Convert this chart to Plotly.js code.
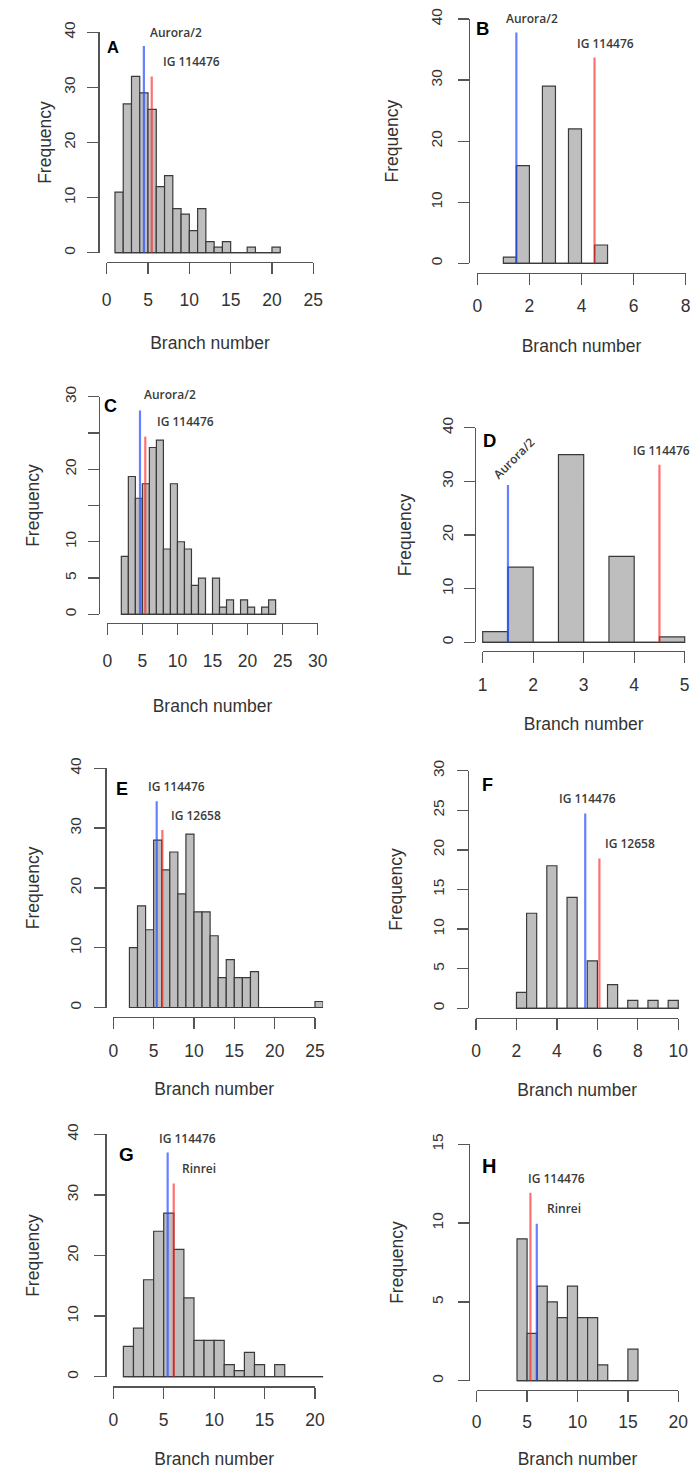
<!DOCTYPE html>
<html><head><meta charset="utf-8">
<script src="https://cdn.plot.ly/plotly-3.0.1.min.js"></script>
<style>html,body{margin:0;padding:0;background:#fff}#chart{width:691px;height:1470px}</style>
</head><body><div id="chart"></div>
<script>
// ===== DATA =====
// Panel A
const aBinLeft = [1,2,3,4,5,6,7,8,9,10,11,12,13,14,15,16,17,18,19,20];
const aBinWidth = 1;
const aCounts = [11,27,32,29,26,12,14,8,7,4,8,2,1,2,0,0,1,0,0,1];
const aRefNames = ['Aurora/2','IG 114476'];
const aRefValues = [4.5, 5.45];
const aRefHeights = [37.5, 32];
const aXTicks = [0,5,10,15,20,25];
const aYTicks = [0,10,20,30,40];
// Panel B
const bBinLeft = [1,1.5,2,2.5,3,3.5,4,4.5];
const bBinWidth = 0.5;
const bCounts = [1,16,0,29,0,22,0,3];
const bRefNames = ['Aurora/2','IG 114476'];
const bRefValues = [1.5, 4.5];
const bRefHeights = [37.8, 33.7];
const bXTicks = [0,2,4,6,8];
const bYTicks = [0,10,20,30,40];
// Panel C
const cBinLeft = [2,3,4,5,6,7,8,9,10,11,12,13,14,15,16,17,18,19,20,21,22,23];
const cBinWidth = 1;
const cCounts = [8,19,16,18,23,24,9,18,10,9,4,5,0,5,1,2,0,2,1,0,1,2];
const cRefNames = ['Aurora/2','IG 114476'];
const cRefValues = [4.66, 5.42];
const cRefHeights = [28.1, 24.5];
const cXTicks = [0,5,10,15,20,25,30];
const cYTicks = [0,5,10,15,20,25,30];
const cYTickText = ['0','5','10','','20','','30'];
// Panel D
const dBinLeft = [1,1.5,2,2.5,3,3.5,4,4.5];
const dBinWidth = 0.5;
const dCounts = [2,14,0,35,0,16,0,1];
const dRefNames = ['Aurora/2','IG 114476'];
const dRefValues = [1.5, 4.5];
const dRefHeights = [29.3, 33.1];
const dXTicks = [1,2,3,4,5];
const dYTicks = [0,10,20,30,40];
// Panel E
const eBinLeft = [2,3,4,5,6,7,8,9,10,11,12,13,14,15,16,17,18,19,20,21,22,23,24,25];
const eBinWidth = 1;
const eCounts = [10,17,13,28,23,26,19,29,16,16,12,5,8,5,5,6,0,0,0,0,0,0,0,1];
const eRefNames = ['IG 114476','IG 12658'];
const eRefValues = [5.38, 6.08];
const eRefHeights = [34.5, 29.7];
const eXTicks = [0,5,10,15,20,25];
const eYTicks = [0,10,20,30,40];
// Panel F
const fBinLeft = [2,2.5,3,3.5,4,4.5,5,5.5,6,6.5,7,7.5,8,8.5,9,9.5];
const fBinWidth = 0.5;
const fCounts = [2,12,0,18,0,14,0,6,0,3,0,1,0,1,0,1];
const fRefNames = ['IG 114476','IG 12658'];
const fRefValues = [5.4, 6.1];
const fRefHeights = [24.6, 18.9];
const fXTicks = [0,2,4,6,8,10];
const fYTicks = [0,5,10,15,20,25,30];
// Panel G
const gBinLeft = [1,2,3,4,5,6,7,8,9,10,11,12,13,14,15,16,17,18,19,20];
const gBinWidth = 1;
const gCounts = [5,8,16,24,27,21,13,6,6,6,2,1,4,2,0,2,0,0,0,0];
const gRefNames = ['IG 114476','Rinrei'];
const gRefValues = [5.39, 5.99];
const gRefHeights = [37, 31.9];
const gXTicks = [0,5,10,15,20];
const gYTicks = [0,10,20,30,40];
// Panel H
const hBinLeft = [4,5,6,7,8,9,10,11,12,13,14,15];
const hBinWidth = 1;
const hCounts = [9,3,6,5,4,6,4,4,1,0,0,2];
const hRefNames = ['IG 114476','Rinrei'];
const hRefValues = [5.33, 5.96];
const hRefHeights = [11.93, 9.96];
const hXTicks = [0,5,10,15,20];
const hYTicks = [0,5,10,15];

const panelLetters = ['A','B','C','D','E','F','G','H'];
const xTitle = 'Branch number';
const yTitle = 'Frequency';

const panels = [
  {binLeft:aBinLeft, binWidth:aBinWidth, counts:aCounts, refNames:aRefNames, refValues:aRefValues, refHeights:aRefHeights, xTicks:aXTicks, yTicks:aYTicks},
  {binLeft:bBinLeft, binWidth:bBinWidth, counts:bCounts, refNames:bRefNames, refValues:bRefValues, refHeights:bRefHeights, xTicks:bXTicks, yTicks:bYTicks},
  {binLeft:cBinLeft, binWidth:cBinWidth, counts:cCounts, refNames:cRefNames, refValues:cRefValues, refHeights:cRefHeights, xTicks:cXTicks, yTicks:cYTicks, yTickText:cYTickText},
  {binLeft:dBinLeft, binWidth:dBinWidth, counts:dCounts, refNames:dRefNames, refValues:dRefValues, refHeights:dRefHeights, xTicks:dXTicks, yTicks:dYTicks},
  {binLeft:eBinLeft, binWidth:eBinWidth, counts:eCounts, refNames:eRefNames, refValues:eRefValues, refHeights:eRefHeights, xTicks:eXTicks, yTicks:eYTicks},
  {binLeft:fBinLeft, binWidth:fBinWidth, counts:fCounts, refNames:fRefNames, refValues:fRefValues, refHeights:fRefHeights, xTicks:fXTicks, yTicks:fYTicks},
  {binLeft:gBinLeft, binWidth:gBinWidth, counts:gCounts, refNames:gRefNames, refValues:gRefValues, refHeights:gRefHeights, xTicks:gXTicks, yTicks:gYTicks},
  {binLeft:hBinLeft, binWidth:hBinWidth, counts:hCounts, refNames:hRefNames, refValues:hRefValues, refHeights:hRefHeights, xTicks:hXTicks, yTicks:hYTicks}
];

// ===== LAYOUT / STYLE =====
const W = 691, H = 1470;
const BLUE = 'rgba(35,75,255,0.7)', RED = 'rgba(255,35,35,0.65)';
// pixel calibration of each panel + wanted text offsets (px from axis line to text centre)
const geom = [
  {xpx:[106.7,313.3], ypx:[252.7,32.3],   xLab:36,   xTit:81,   yLab:29, yTit:54, colors:[BLUE,RED], letter:[0.8,37.4,16.5], labels:[[8.4,40.0,0],[10.3,34.7,0]]},
  {xpx:[477.3,685.7], ypx:[263.3,19.0],   xLab:31,   xTit:72.7, yLab:33, yTit:77, colors:[BLUE,RED], letter:[0.19,38.5,18.5], labels:[[2.11,40.1,0],[4.93,36.0,0]]},
  {xpx:[107.3,317.7], ypx:[614.3,396.7],  xLab:35.7, xTit:82.7, yLab:29, yTit:66, colors:[BLUE,RED], letter:[0.48,28.7,18], labels:[[8.9,30.3,0],[11.15,26.6,0]]},
  {xpx:[482.7,684.7], ypx:[642.3,427.7],  xLab:32,   xTit:73,   yLab:28, yTit:70, colors:[BLUE,RED], letter:[1.13,37.7,18.5], labels:[[1.61,34.3,-45],[4.55,35.7,0]]},
  {xpx:[113.3,315.0], ypx:[1007.5,768.3], xLab:31.7, xTit:72,   yLab:30, yTit:72, colors:[BLUE,RED], letter:[1.12,36.5,18], labels:[[7.79,36.9,0],[10.27,32.1,0]]},
  {xpx:[476.0,678.3], ypx:[1008.3,770.7], xLab:31,   xTit:72,   yLab:30, yTit:72, colors:[BLUE,RED], letter:[0.56,28.2,18], labels:[[5.5,26.5,0],[7.63,20.8,0]]},
  {xpx:[113.3,315.0], ypx:[1376.7,1134.3],xLab:32,   xTit:72,   yLab:33, yTit:73, colors:[BLUE,RED], letter:[1.33,36.7,19], labels:[[7.34,39.3,0],[8.53,34.3,0]]},
  {xpx:[476.7,678.3], ypx:[1380.7,1144.3],xLab:30,   xTit:69,   yLab:32, yTit:72, colors:[RED,BLUE], letter:[1.22,13.6,20], labels:[[7.87,12.84,0],[8.64,10.9,0]]}
];
const X_LAB_SHIFT = 10.5, Y_LAB_SHIFT = 9, X_TIT_SHIFT = 17.5, Y_TIT_SHIFT = 21;

const AXIS_COLOR = '#555';
const TEXT_COLOR = '#333';
const LABEL_FONT = {family:'Open Sans, sans-serif', size:12, color:'#3a3a3a', weight:600};

const traces = [];
const layout = {
  width: W, height: H,
  margin: {l:0, r:0, t:0, b:0},
  paper_bgcolor: '#fff', plot_bgcolor: 'rgba(0,0,0,0)',
  showlegend: false,
  font: {family:'Liberation Sans, Arial, sans-serif', color: TEXT_COLOR},
  annotations: []
};
const fx = px => px / W;
const fy = py => 1 - py / H;

panels.forEach((p, i) => {
  const g = geom[i];
  const n1 = 3*i + 1, n2 = 3*i + 2, n3 = 3*i + 3;
  const x0 = p.xTicks[0], x1 = p.xTicks[p.xTicks.length-1];
  const y0 = p.yTicks[0], y1 = p.yTicks[p.yTicks.length-1];
  const wpx = g.xpx[1]-g.xpx[0], hpx = g.ypx[0]-g.ypx[1];
  const xs = wpx/(x1-x0), ys = hpx/(y1-y0);
  const left = g.xpx[0]-0.04*wpx, right = Math.min(W, g.xpx[1]+0.04*wpx);
  const bottom = g.ypx[0]+0.04*hpx, top = Math.max(0, g.ypx[1]-0.04*hpx);
  const xr = [x0+(left-g.xpx[0])/xs, x0+(right-g.xpx[0])/xs];
  const yr = [y0-(bottom-g.ypx[0])/ys, y0+(g.ypx[0]-top)/ys];

  // data axes (invisible, R "usr" region)
  layout['xaxis'+n1] = {domain:[fx(left), fx(right)], range:xr, anchor:'y'+n1, visible:false, showgrid:false, zeroline:false};
  layout['yaxis'+n1] = {domain:[fy(bottom), fy(top)], range:yr, anchor:'x'+n1, visible:false, showgrid:false, zeroline:false};

  // R-style axis lines + ticks spanning only the tick range
  const lineStyle = {showline:true, linecolor:AXIS_COLOR, linewidth:1.3, showgrid:false, zeroline:false,
    ticks:'outside', ticklen:11, tickwidth:1.3, tickcolor:AXIS_COLOR, showticklabels:false};
  layout['xaxis'+n2] = Object.assign({domain:[fx(g.xpx[0]), fx(g.xpx[1])], range:[x0, x1], anchor:'free', position:fy(bottom),
    tickmode:'array', tickvals:p.xTicks}, lineStyle);
  layout['yaxis'+n2] = Object.assign({domain:[fy(g.ypx[0]), fy(g.ypx[1])], range:[y0, y1], anchor:'free', position:fx(left),
    tickmode:'array', tickvals:p.yTicks}, lineStyle);
  traces.push({type:'scatter', x:[], y:[], xaxis:'x'+n2, yaxis:'y'+n2, hoverinfo:'skip'});

  // tick labels + titles (R puts them well away from the axis line)
  layout['xaxis'+n3] = {
    domain:[fx(g.xpx[0]), fx(g.xpx[1])], range:[x0, x1], anchor:'free', position:fy(bottom + g.xLab - X_LAB_SHIFT),
    showline:false, showgrid:false, zeroline:false, ticks:'',
    tickmode:'array', tickvals:p.xTicks, ticktext:p.xTicks.map(String),
    tickfont:{size:17.5, color:TEXT_COLOR},
    title:{text:xTitle, font:{size:17.5, color:TEXT_COLOR}, standoff:Math.max(0, g.xTit - g.xLab - X_TIT_SHIFT)}
  };
  layout['yaxis'+n3] = {
    domain:[fy(g.ypx[0]), fy(g.ypx[1])], range:[y0, y1], anchor:'free', position:fx(left - (g.yLab - Y_LAB_SHIFT)),
    showline:false, showgrid:false, zeroline:false, ticks:'',
    tickmode:'array', tickvals:p.yTicks, ticktext:(p.yTickText || p.yTicks.map(String)),
    tickangle:-90, tickfont:{size:15.5, color:TEXT_COLOR},
    title:{text:yTitle, font:{size:17.5, color:TEXT_COLOR}, standoff:Math.max(0, g.yTit - g.yLab - Y_TIT_SHIFT)}
  };
  traces.push({type:'scatter', x:[], y:[], xaxis:'x'+n3, yaxis:'y'+n3, hoverinfo:'skip'});

  // histogram bars
  traces.push({
    type:'bar', x:p.binLeft, y:p.counts, width:p.binWidth, offset:0,
    xaxis:'x'+n1, yaxis:'y'+n1,
    marker:{color:'#bebebe', line:{color:'#3a3a3a', width:1.2}},
    hovertemplate:'%{x}: %{y}<extra></extra>'
  });
  // baseline for empty bins (as R draws them)
  const lastEdge = p.binLeft[p.binLeft.length-1] + p.binWidth;
  traces.push({
    type:'scatter', mode:'lines', x:[p.binLeft[0], lastEdge], y:[0, 0],
    xaxis:'x'+n1, yaxis:'y'+n1, line:{color:'#3a3a3a', width:1.2}, hoverinfo:'skip'
  });
  // reference lines
  p.refValues.forEach((v, k) => {
    traces.push({
      type:'scatter', mode:'lines', x:[v, v], y:[0, p.refHeights[k]],
      xaxis:'x'+n1, yaxis:'y'+n1, line:{color:g.colors[k], width:2.2},
      name:p.refNames[k], hoverinfo:'name'
    });
    layout.annotations.push({
      xref:'x'+n1, yref:'y'+n1, x:g.labels[k][0], y:g.labels[k][1], textangle:g.labels[k][2],
      text:p.refNames[k], showarrow:false, xanchor:'center', yanchor:'middle', font:LABEL_FONT
    });
  });
  // panel letter
  layout.annotations.push({
    xref:'x'+n1, yref:'y'+n1, x:g.letter[0], y:g.letter[1], text:panelLetters[i],
    showarrow:false, xanchor:'center', yanchor:'middle',
    font:{family:'Liberation Sans, Arial, sans-serif', size:g.letter[2], color:'#000', weight:'bold'}
  });
});

Plotly.newPlot('chart', traces, layout, {staticPlot:true, displayModeBar:false});
</script>
</body></html>
